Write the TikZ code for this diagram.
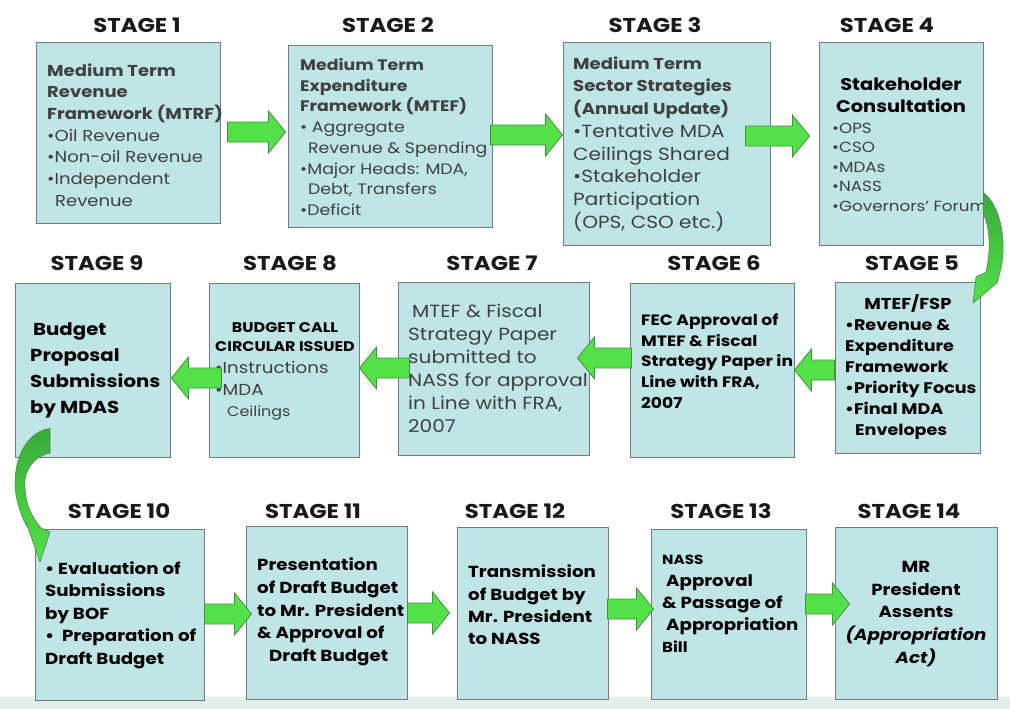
\documentclass[tikz,border=0pt]{standalone}
\usepackage{fontspec}
\setmainfont{Poppins}[FakeStretch=1.14]
\usetikzlibrary{calc,fit}

\definecolor{boxfill}{RGB}{191,229,231}
\definecolor{boxline}{RGB}{112,122,124}
\definecolor{flowfill}{RGB}{82,226,72}
\definecolor{flowline}{RGB}{72,140,72}
\definecolor{flowdark}{RGB}{58,170,58}
\definecolor{bodytext}{RGB}{64,64,64}
\definecolor{band}{RGB}{226,240,236}

\tikzset{
  stagebox/.style={draw=boxline, line width=1pt, fill=boxfill, inner sep=0pt},
  stagelabel/.style={font=\fontsize{20}{24}\selectfont\bfseries, text=black!90},
  boxtext/.style 2 args={align=left, anchor=west, inner sep=0pt, text=bodytext, font=\fontsize{#1}{#2}\selectfont},
  flow/.style={fill=flowfill, draw=flowline, line width=0.8pt, line join=miter},
  bendflow/.style={draw=flowline, line width=0.6pt, top color=flowdark, bottom color=flowfill}
}
\newcommand{\fsz}[2]{\fontsize{#1}{#2}\selectfont}

% block arrow: tail anchor, tail shift, tip anchor, tip shift, row, direction
\newcommand{\flow}[6]{%
  \coordinate (ft) at ([xshift=#2pt]#1 |- 0,#5);
  \coordinate (fh) at ([xshift=#4pt]#3 |- 0,#5);
  \draw[flow] ($(ft)+(0,-10)$) -- ($(fh)+(-17*#6,-10)$) -- ($(fh)+(-17*#6,-21)$) -- (fh)
    -- ($(fh)+(-17*#6,21)$) -- ($(fh)+(-17*#6,10)$) -- ($(ft)+(0,10)$) -- cycle;}

\begin{document}
\begin{tikzpicture}[x=1pt, y=-1pt]
\useasboundingbox (0,0) rectangle (1010,709);
\fill[band] (0,697) rectangle (1010,709);

% row 1
\node[stagebox, fit={(36,43) (220,223)}] (s1) {};
\node[stagebox, fit={(288,46) (492,227)}] (s2) {};
\node[stagebox, fit={(563,43) (770,245)}] (s3) {};
\node[stagebox, fit={(819,43) (983,245)}] (s4) {};
% row 2
\node[stagebox, fit={(835,282) (980,453)}] (s5) {};
\node[stagebox, fit={(630,283) (794,457)}] (s6) {};
\node[stagebox, fit={(398,282) (589,455)}] (s7) {};
\node[stagebox, fit={(209,283) (359,457)}] (s8) {};
\node[stagebox, fit={(15,283) (170,457)}] (s9) {};
% row 3
\node[stagebox, fit={(35,529) (204,700)}] (s10) {};
\node[stagebox, fit={(246,526) (407,699)}] (s11) {};
\node[stagebox, fit={(457,527) (608,699)}] (s12) {};
\node[stagebox, fit={(651,529) (806,699)}] (s13) {};
\node[stagebox, fit={(835,527) (997,699)}] (s14) {};

% stage labels
\node[stagelabel] (l1) at (137,25) {STAGE 1};
\node[stagelabel] (l2) at (388,25) {STAGE 2};
\node[stagelabel] (l3) at (655,25) {STAGE 3};
\node[stagelabel] (l4) at (887,25) {STAGE 4};
\node[stagelabel] (l5) at (912,263) {STAGE 5};
\node[stagelabel] (l6) at (714,263) {STAGE 6};
\node[stagelabel] (l7) at (492,263) {STAGE 7};
\node[stagelabel] (l8) at (290,263) {STAGE 8};
\node[stagelabel] (l9) at (97,263) {STAGE 9};
\node[stagelabel] (l10) at (119,511) {STAGE 10};
\node[stagelabel] (l11) at (313,511) {STAGE 11};
\node[stagelabel] (l12) at (515,511) {STAGE 12};
\node[stagelabel] (l13) at (721,511) {STAGE 13};
\node[stagelabel] (l14) at (909,511) {STAGE 14};

% box texts
\node[boxtext={15.8}{21.7}] (t1) at (47,135) {\textbf{Medium Term}\\\textbf{Revenue}\\\textbf{Framework (MTRF)}\\•Oil Revenue\\•Non-oil Revenue\\•Independent\\\hspace*{8pt}Revenue};
\node[boxtext={15.2}{20.7}] (t2) at (300,137) {\textbf{Medium Term}\\\textbf{Expenditure}\\\textbf{Framework (MTEF)}\\•~Aggregate\\\hspace*{8pt}Revenue \& Spending\\•Major Heads: MDA,\\\hspace*{8pt}Debt, Transfers\\•Deficit};
\node[boxtext={17.6}{22.7}] (t3) at (573,144) {{\fsz{15.8}{22.7}\bfseries Medium Term}\\{\fsz{15.8}{22.7}\bfseries Sector Strategies}\\{\fsz{15.8}{22.7}\bfseries (Annual Update)}\\•Tentative MDA\\Ceilings Shared\\•Stakeholder\\Participation\\(OPS, CSO etc.)};
\node[boxtext={17}{22}, align=center, anchor=center, text=black] (h4) at (901,95) {\textbf{Stakeholder}\\\textbf{Consultation}};
\node[boxtext={14.7}{19.5}] (t4) at (832,167) {•OPS\\•CSO\\•MDAs\\•NASS\\•Governors’ Forum};
\node[boxtext={15.8}{21}, align=center, anchor=center, text=black] (h5) at (908,303) {\textbf{MTEF/FSP}};
\node[boxtext={15.4}{21}, text=black] (t5) at (845,380) {\textbf{•Revenue \&}\\\textbf{Expenditure}\\\textbf{Framework}\\\textbf{•Priority Focus}\\\textbf{•Final MDA}\\\textbf{\hspace*{10pt}Envelopes}};
\node[boxtext={15}{20.8}, text=black] (t6) at (641,361) {\textbf{FEC Approval of}\\\textbf{MTEF \& Fiscal}\\\textbf{Strategy Paper in}\\\textbf{Line with FRA,}\\\textbf{2007}};
\node[boxtext={17.6}{23}] (t7) at (408,368) {\hspace*{4pt}MTEF \& Fiscal\\Strategy Paper\\submitted to\\NASS for approval\\in Line with FRA,\\2007};
\node[boxtext={14}{19}, align=center, anchor=center, text=black] (h8) at (285,337) {\textbf{BUDGET CALL}\\\textbf{CIRCULAR ISSUED}};
\node[boxtext={16}{21.5}] (t8) at (215,391) {•Instructions\\•MDA\\\hspace*{12pt}{\fsz{14}{21.5}Ceilings}};
\node[boxtext={17.3}{26}, text=black] (t9) at (30,370) {\textbf{\hspace*{3pt}Budget}\\\textbf{Proposal}\\\textbf{Submissions}\\\textbf{by MDAS}};
\node[boxtext={16}{22.5}, text=black] (t10) at (45,615) {\textbf{•~Evaluation of}\\\textbf{Submissions}\\\textbf{by BOF}\\\textbf{•~~Preparation of}\\\textbf{Draft Budget}};
\node[boxtext={16}{22.7}, text=black] (t11) at (257,612) {\textbf{Presentation}\\\textbf{of Draft Budget}\\\textbf{to Mr. President}\\\textbf{\& Approval of}\\\textbf{\hspace*{12pt}Draft Budget}};
\node[boxtext={16}{22.3}, text=black] (t12) at (468,605) {\textbf{Transmission}\\\textbf{of Budget by}\\\textbf{Mr. President}\\\textbf{to NASS}};
\node[boxtext={16}{22}, text=black] (t13) at (662,604) {{\fsz{13.3}{22}\bfseries NASS}\\\textbf{\hspace*{4pt}Approval}\\\textbf{\& Passage of}\\\textbf{\hspace*{4pt}Appropriation}\\{\fsz{14.5}{22}\bfseries Bill}};
\node[boxtext={16}{22.7}, align=center, anchor=center, text=black] (t14) at (916,614) {\textbf{MR}\\\textbf{President}\\\textbf{Assents}\\\textbf{\textit{(Appropriation}}\\\textbf{\textit{Act)}}};

% straight flows
\flow{s1.east}{7}{s2.west}{-2}{132}{1}
\flow{s2.east}{-2}{s3.west}{0}{135}{1}
\flow{s3.east}{-25}{s4.west}{-9}{136}{1}
\flow{s5.west}{0}{s6.east}{0}{370}{-1}
\flow{s6.west}{2}{s7.east}{-12}{358}{-1}
\flow{s7.west}{12}{s8.east}{0}{368}{-1}
\flow{s8.west}{13}{s9.east}{1}{378}{-1}
\flow{s10.east}{0}{s11.west}{6}{614}{1}
\flow{s11.east}{0}{s12.west}{-7}{613}{1}
\flow{s12.east}{-1}{s13.west}{3}{609}{1}
\flow{s13.east}{-1}{s14.west}{15}{604}{1}

% bent flows
\draw[bendflow] (s4.east |- 0,193) .. controls (1000,205) and (1007,240) .. (1001,268)
  -- (997,283) -- (973,303) -- (976,277) -- (986,272)
  .. controls (991,250) and (990,228) .. (s4.east |- 0,214) -- cycle;
\draw[bendflow] (s9.south west -| 50,0) ++(0,-29) .. controls (22,432) and (10,470) .. (17,500)
  .. controls (20,512) and (24,522) .. (28,528) -- (26,522) -- (40,562) -- (50,532) -- (41,528)
  .. controls (30,515) and (24,500) .. (25,480) .. controls (27,466) and (36,456) .. (50,453) -- cycle;
\end{tikzpicture}
\end{document}
